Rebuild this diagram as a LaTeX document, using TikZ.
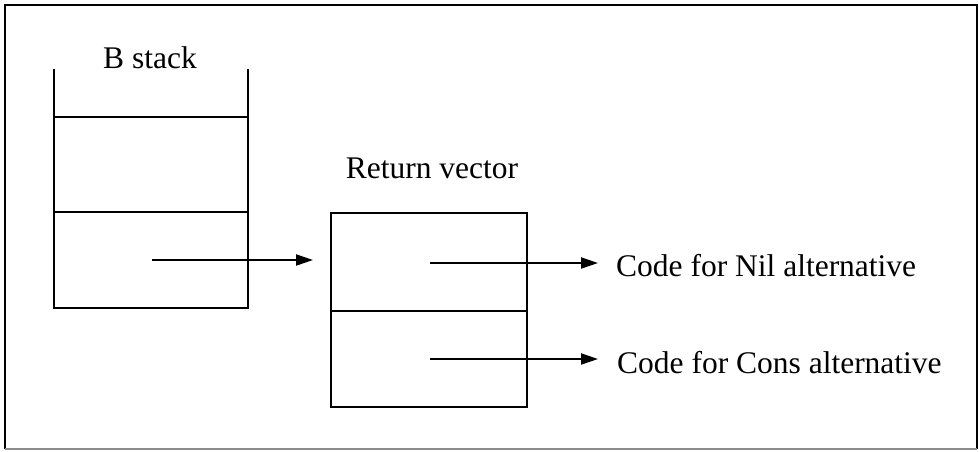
\documentclass[tikz,border=0pt]{standalone}
\usepackage{fontspec}
\setmainfont{Liberation Serif}
\usetikzlibrary{arrows.meta}
\begin{document}
\begin{tikzpicture}[x=1pt,y=-1pt, line width=2.3pt,
  cell/.style={draw, rectangle, inner sep=0pt, outer sep=0pt},
  lbl/.style={font=\fontsize{31.5}{36}\selectfont, inner sep=0pt},
  ptr/.style={-{Triangle[length=17pt,width=11pt]}, line width=2pt}]
\useasboundingbox (0,0) rectangle (979,451);
% frame
\draw (5,449) -- (5,5) -- (977,5) -- (977,449);
\draw[black!45] (5,449) -- (977,449);
% B stack
\node[cell, minimum width=194pt, minimum height=95pt] (b1) at (151,164.5) {};
\node[cell, minimum width=194pt, minimum height=96pt] (b2) at (151,260) {};
\draw (b1.north west) -- ++(0,-48);
\draw (b1.north east) -- ++(0,-48);
\node[lbl, anchor=base] (bl) at (150,68) {B stack};
% return vector
\node[cell, minimum width=196pt, minimum height=98pt] (r1) at (429,262) {};
\node[cell, minimum width=196pt, minimum height=96pt] (r2) at (429,359) {};
\node[lbl, anchor=base] (rl) at (432,178) {Return vector};
% texts
\node[lbl, anchor=base west, inner xsep=17pt] (nil) at (598,276) {Code for Nil alternative};
\node[lbl, anchor=base west, inner xsep=18pt] (cons) at (598,373) {Code for Cons alternative};
% pointers
\coordinate (bs) at (152,260);
\coordinate (rin) at (313,260);
\coordinate (r1s) at (430,263);
\coordinate (r2s) at (430,359);
\draw[ptr] (bs) -- (rin);
\draw[ptr] (r1s) -- (r1s -| nil.west);
\draw[ptr] (r2s) -- (r2s -| cons.west);
\end{tikzpicture}
\end{document}
